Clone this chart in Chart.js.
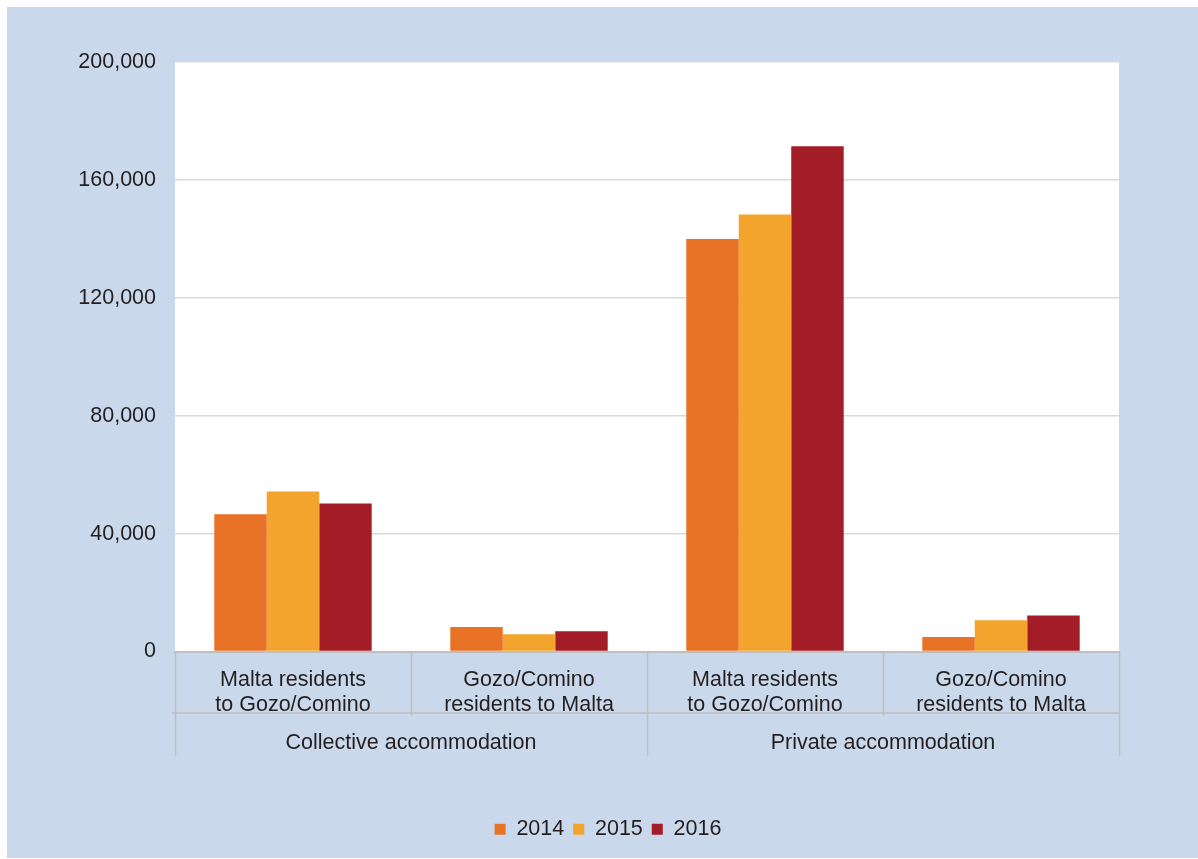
<!DOCTYPE html>
<html>
<head>
<meta charset="utf-8">
<title>Domestic tourism nights by accommodation type</title>
<script src="https://cdn.jsdelivr.net/npm/chart.js@4/dist/chart.umd.min.js"></script>
<style>
  html, body { margin: 0; padding: 0; background: #ffffff; }
  #frame {
    position: absolute; left: 7px; top: 7px;
    width: 1191px; height: 851px;
    background: #c9d8ea;
  }
  #chart { display: block; }
</style>
</head>
<body>
<div id="frame"><canvas id="chart" width="1191" height="851"></canvas></div>
<script>
// Categories (two-line labels) and their accommodation groups
const categories = [
  ['Malta residents', 'to Gozo/Comino'],
  ['Gozo/Comino', 'residents to Malta'],
  ['Malta residents', 'to Gozo/Comino'],
  ['Gozo/Comino', 'residents to Malta']
];
const groups = ['Collective accommodation', 'Private accommodation'];
const years = ['2014', '2015', '2016'];

// Values per year, in category order
const values2014 = [46550, 8300, 139950, 4900];
const values2015 = [54250, 5850, 148250, 10600];
const values2016 = [50200, 6850, 171400, 12200];

const yTicks = [0, 40000, 80000, 120000, 160000, 200000];

const colors = ['#e87225', '#f2a42d', '#a31d27'];
const textColor = '#231f20';
const fontFamily = '"Liberation Sans", Arial, Helvetica, sans-serif';
const fontSize = 21.5;

// White plotting area on the blue panel
const plotBackground = {
  id: 'plotBackground',
  beforeDraw(chart) {
    const { ctx, chartArea: a } = chart;
    ctx.save();
    ctx.fillStyle = '#ffffff';
    ctx.fillRect(a.left, a.top, a.right - a.left, a.bottom - a.top);
    ctx.restore();
  }
};

// Separator lines of the two-level category axis
const categoryDividers = {
  id: 'categoryDividers',
  afterDraw(chart) {
    const { ctx } = chart;
    const x = chart.scales.x;
    const left = x.left, right = x.right, top = x.top;
    const n = categories.length;
    const step = (right - left) / n;
    ctx.save();
    ctx.strokeStyle = '#bfbfbf';
    ctx.lineWidth = 1.5;
    ctx.beginPath();
    for (let i = 0; i <= n; i++) {
      const px = Math.round(left + i * step) + 0.5;
      const isGroupEdge = i % 2 === 0;
      ctx.moveTo(px, top);
      ctx.lineTo(px, top + (isGroupEdge ? 104 : 64));
    }
    ctx.moveTo(left - 3, x.bottom + 0.5);
    ctx.lineTo(right, x.bottom + 0.5);
    ctx.stroke();
    ctx.restore();
  }
};

new Chart(document.getElementById('chart'), {
  type: 'bar',
  data: {
    labels: categories,
    datasets: [
      { label: years[0], data: values2014, backgroundColor: colors[0] },
      { label: years[1], data: values2015, backgroundColor: colors[1] },
      { label: years[2], data: values2016, backgroundColor: colors[2] }
    ]
  },
  options: {
    responsive: false,
    animation: false,
    layout: { padding: { top: 55, left: 66, right: 55, bottom: 8 } },
    datasets: {
      bar: { categoryPercentage: 0.667, barPercentage: 1.0, borderWidth: 0 }
    },
    scales: {
      x: {
        type: 'category',
        position: 'bottom',
        weight: 0,
        grid: { display: false, drawTicks: false },
        border: { display: true, color: '#bfbfbf', width: 2 },
        ticks: {
          color: textColor,
          font: { family: fontFamily, size: fontSize, lineHeight: '25px' },
          padding: 16,
          maxRotation: 0,
          autoSkip: false
        },
        afterFit(scale) { scale.height = 61; }
      },
      group: {
        type: 'category',
        axis: 'x',
        position: 'bottom',
        weight: 1,
        labels: groups,
        offset: true,
        grid: { display: false, drawTicks: false },
        border: { display: false },
        ticks: {
          color: textColor,
          font: { family: fontFamily, size: fontSize },
          padding: 18,
          maxRotation: 0,
          autoSkip: false
        },
        afterFit(scale) { scale.height = 97; }
      },
      y: {
        min: 0,
        max: 200000,
        afterBuildTicks(scale) { scale.ticks = yTicks.map(v => ({ value: v })); },
        grid: { color: '#d9d9d9', lineWidth: 1.5, drawTicks: false },
        border: { display: false },
        ticks: {
          color: textColor,
          font: { family: fontFamily, size: fontSize },
          padding: 19,
          callback: v => Number(v).toLocaleString('en-US')
        },
        afterFit(scale) { scale.width = 102; }
      },
      // empty gutter on the right of the plot
      rightGutter: {
        type: 'linear',
        axis: 'y',
        position: 'right',
        display: true,
        grid: { display: false, drawTicks: false },
        border: { display: false },
        ticks: { display: false },
        afterFit(scale) { scale.width = 24; }
      }
    },
    plugins: {
      legend: {
        display: true,
        position: 'bottom',
        labels: {
          color: textColor,
          font: { family: fontFamily, size: fontSize },
          boxWidth: 11,
          boxHeight: 11,
          padding: 9
        }
      },
      tooltip: { enabled: false }
    }
  },
  plugins: [plotBackground, categoryDividers]
});
</script>
</body>
</html>
